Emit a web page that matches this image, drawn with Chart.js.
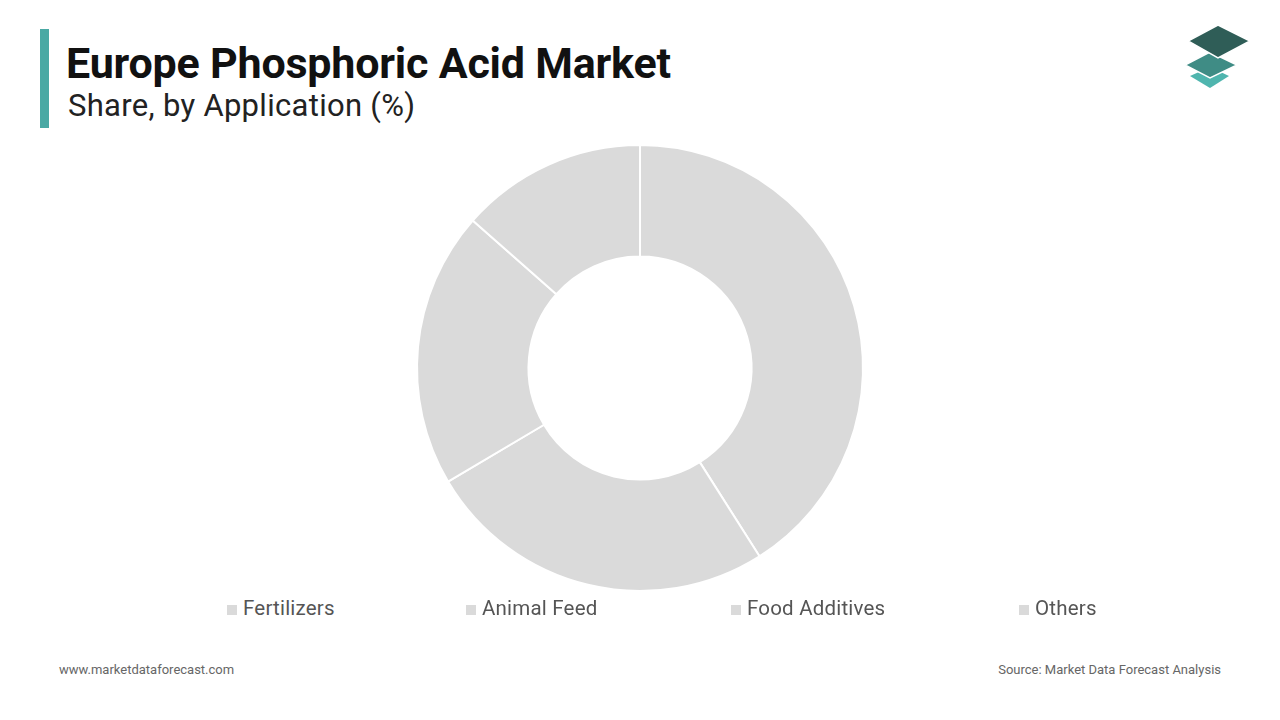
<!DOCTYPE html>
<html><head><meta charset="utf-8">
<script src="https://cdn.jsdelivr.net/npm/chart.js@4"></script>
<style>
body{margin:0;width:1280px;height:720px;background:#fff;font-family:Roboto,"Open Sans",sans-serif;position:relative;overflow:hidden}
#bar{position:absolute;left:40px;top:29px;width:9px;height:99px;background:#4aa9a4}
#t1{position:absolute;left:66px;top:38px;font-size:43px;font-weight:700;color:#111;letter-spacing:-0.2px}
#t2{position:absolute;left:68px;top:87px;font-size:31px;color:#222;letter-spacing:0.3px}
#wrap{position:absolute;left:410px;top:138px;width:460px;height:460px}
.lg{position:absolute;top:596px;font-size:20.5px;color:#555;letter-spacing:0.2px}
.lg span{display:inline-block;width:10px;height:10px;background:#dadada;margin-right:6px}
.ft{position:absolute;top:662px;font-size:13px;color:#666}
</style></head><body>
<div id="bar"></div>
<div id="t1">Europe Phosphoric Acid Market</div>
<div id="t2">Share, by Application (%)</div>
<svg style="position:absolute;left:1185px;top:22px" width="70" height="70">
<polygon points="25,45 44,54 25,66 5,54" fill="#4fb5ae"/>
<polygon points="25,30 52,43 25,56 0,43" fill="#3f8c85" stroke="#fff" stroke-width="1.5"/>
<polygon points="33,3 65,19 33,36 3,19" fill="#2f5d57" stroke="#fff" stroke-width="1.5"/>
</svg>
<div id="wrap"><canvas id="c"></canvas></div>
<div id="legend"></div>
<div class="ft" style="left:59px">www.marketdataforecast.com</div>
<div class="ft" style="right:59px">Source: Market Data Forecast Analysis</div>
<script>
const categories=["Fertilizers","Animal Feed","Food Additives","Others"];
const shares=[41,25.5,20,13.5];
const legendX=[227,466,731,1019];
const lg=document.getElementById('legend');
categories.forEach((c,i)=>{const d=document.createElement('div');d.className='lg';d.style.left=legendX[i]+'px';d.innerHTML='<span></span>'+c;lg.appendChild(d);});
new Chart(document.getElementById('c'),{type:'doughnut',
data:{labels:categories,datasets:[{data:shares,backgroundColor:'#dadada',borderColor:'#fff',borderWidth:2}]},
options:{responsive:true,maintainAspectRatio:false,animation:false,cutout:'50%',layout:{padding:6},
plugins:{legend:{display:false},tooltip:{enabled:false}}}});
</script>
</body></html>
